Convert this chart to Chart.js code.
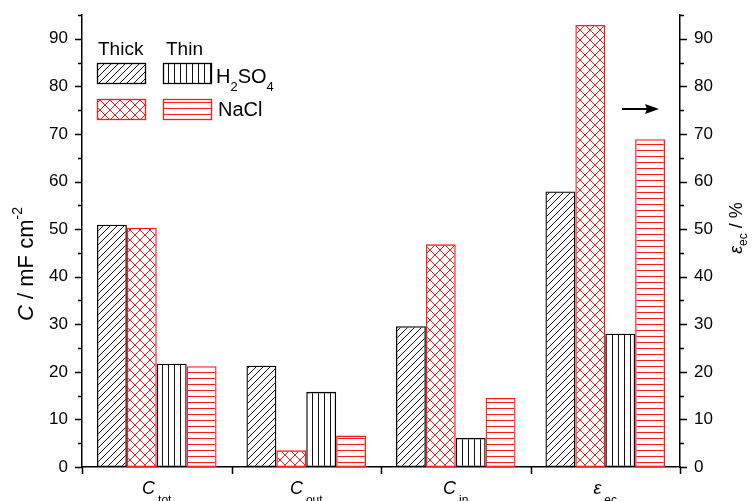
<!DOCTYPE html>
<html>
<head>
<meta charset="utf-8">
<script src="https://cdn.jsdelivr.net/npm/chart.js@4.4.0/dist/chart.umd.min.js"></script>
<style>
html,body{margin:0;padding:0;background:#fff;}
#wrap{width:753px;height:501px;}
</style>
</head>
<body>
<div id="wrap"><canvas id="c" width="753" height="501"></canvas></div>
<script>
// ---- data ----
const categoryMain = ['C', 'C', 'C', 'ε'];
const categorySub = ['tot', 'out', 'in', 'ec'];
const thickH2SO4 = [50.9, 21.3, 29.6, 57.9];
const thickNaCl = [50.3, 3.5, 46.8, 92.9];
const thinH2SO4 = [21.7, 15.8, 6.1, 28.0];
const thinNaCl = [21.2, 6.6, 14.5, 68.9];
const axisMin = 0;
const axisMax = 95;
const thicknessLabels = ['Thick', 'Thin'];
const electrolyteLabels = [['H', '2', 'SO', '4'], ['NaCl']];

const FONT = "'Liberation Sans', Arial, sans-serif";
const RED = '#ff1a1a';
const BLK = '#111';

function makePattern(kind, color) {
  const c = document.createElement('canvas');
  let s = 6;
  if (kind === 'diag') s = 7;
  if (kind === 'cross') s = 10;
  c.width = s; c.height = s;
  const g = c.getContext('2d');
  g.strokeStyle = color; g.fillStyle = color; g.lineWidth = 1;
  if (kind === 'diag') {
    g.beginPath();
    g.moveTo(-1, s + 1); g.lineTo(s + 1, -1);
    g.moveTo(-1, 1); g.lineTo(1, -1);
    g.moveTo(s - 1, s + 1); g.lineTo(s + 1, s - 1);
    g.stroke();
  } else if (kind === 'cross') {
    g.beginPath();
    g.moveTo(0, 0); g.lineTo(s, s);
    g.moveTo(0, s); g.lineTo(s, 0);
    g.stroke();
  } else if (kind === 'vert') {
    g.fillRect(0, 0, 1, s);
  } else if (kind === 'horiz') {
    g.fillRect(0, 0, s, 1);
  }
  return document.createElement('canvas').getContext('2d').createPattern(c, 'repeat');
}

const patDiag = makePattern('diag', BLK);
const patCross = makePattern('cross', RED);
const patVert = makePattern('vert', BLK);
const patHoriz = makePattern('horiz', RED);

const decor = {
  id: 'decor',
  beforeDraw(chart) {
    const ctx = chart.ctx;
    ctx.save();
    ctx.fillStyle = '#fff';
    ctx.fillRect(0, 0, chart.width, chart.height);
    ctx.restore();
  },
  afterDraw(chart) {
    const ctx = chart.ctx;
    const y = chart.scales.y, x = chart.scales.x;
    const L = chart.chartArea.left, R = chart.chartArea.right, B = chart.chartArea.bottom;
    ctx.save();
    ctx.strokeStyle = '#000';
    ctx.lineWidth = 1.5;
    // y ticks (major/minor) both sides
    ctx.beginPath();
    for (let v = axisMin; v <= axisMax; v += 5) {
      const py = Math.round(y.getPixelForValue(v)) + 0.5;
      const len = (v % 10 === 0) ? 7 : 4;
      ctx.moveTo(L - len, py); ctx.lineTo(L, py);
      ctx.moveTo(R, py); ctx.lineTo(R + len, py);
    }
    // x ticks at category boundaries
    for (let i = 0; i <= categoryMain.length; i++) {
      const px = Math.round(x.getPixelForValue(i - 0.5)) + 0.5;
      ctx.moveTo(px, B); ctx.lineTo(px, B + 7);
    }
    ctx.stroke();

    // x labels
    ctx.fillStyle = '#000';
    ctx.textBaseline = 'alphabetic';
    for (let i = 0; i < categoryMain.length; i++) {
      const cx = x.getPixelForValue(i);
      ctx.font = 'italic 18px ' + FONT;
      const w1 = ctx.measureText(categoryMain[i]).width;
      ctx.font = '12px ' + FONT;
      const w2 = ctx.measureText(categorySub[i]).width;
      const x0 = cx - (w1 + 3 + w2) / 2;
      ctx.font = 'italic 18px ' + FONT;
      ctx.fillText(categoryMain[i], x0, 494);
      ctx.font = '12px ' + FONT;
      ctx.fillText(categorySub[i], x0 + w1 + 3, 504);
    }

    // left axis title: C / mF cm^-2
    ctx.save();
    ctx.translate(33, 264);
    ctx.rotate(-Math.PI / 2);
    const parts = [
      { t: 'C', f: 'italic 22px ' + FONT, dy: 0 },
      { t: ' / mF cm', f: '22px ' + FONT, dy: 0 },
      { t: '-2', f: '14px ' + FONT, dy: -11 }
    ];
    let tw = 0;
    parts.forEach(p => { ctx.font = p.f; p.w = ctx.measureText(p.t).width; tw += p.w; });
    let xx = -tw / 2;
    parts.forEach(p => { ctx.font = p.f; ctx.fillText(p.t, xx, p.dy); xx += p.w; });
    ctx.restore();

    // right axis title: ε_ec / %
    ctx.save();
    ctx.translate(742, 228);
    ctx.rotate(-Math.PI / 2);
    const rparts = [
      { t: 'ε', f: 'italic 18px ' + FONT, dy: 0 },
      { t: 'ec', f: '12px ' + FONT, dy: 5 },
      { t: ' / %', f: '18px ' + FONT, dy: 0 }
    ];
    tw = 0;
    rparts.forEach(p => { ctx.font = p.f; p.w = ctx.measureText(p.t).width; tw += p.w; });
    xx = -tw / 2;
    rparts.forEach(p => { ctx.font = p.f; ctx.fillText(p.t, xx, p.dy); xx += p.w; });
    ctx.restore();

    // legend
    const ds = chart.data.datasets;
    ctx.font = '19px ' + FONT;
    ctx.fillText(thicknessLabels[0], 98, 55);
    ctx.fillText(thicknessLabels[1], 166, 55);
    const boxes = [
      { d: ds[0], x: 97, y: 63 }, { d: ds[2], x: 163, y: 63 },
      { d: ds[1], x: 97, y: 99 }, { d: ds[3], x: 163, y: 99 }
    ];
    boxes.forEach(b => {
      ctx.fillStyle = '#fff';
      ctx.fillRect(b.x, b.y, 48, 20);
      ctx.fillStyle = b.d.backgroundColor;
      ctx.fillRect(b.x, b.y, 48, 20);
      ctx.strokeStyle = b.d.borderColor;
      ctx.lineWidth = 1.3;
      ctx.strokeRect(b.x + 0.5, b.y + 0.5, 48, 20);
    });
    ctx.fillStyle = '#000';
    // H2SO4
    let lx = 216;
    const h = electrolyteLabels[0];
    for (let k = 0; k < h.length; k++) {
      const sub = (k % 2 === 1);
      ctx.font = (sub ? '13px ' : '20px ') + FONT;
      ctx.fillText(h[k], lx, sub ? 91 : 83);
      lx += ctx.measureText(h[k]).width;
    }
    ctx.font = '20px ' + FONT;
    ctx.fillText(electrolyteLabels[1][0], 218, 116);

    // arrow
    ctx.strokeStyle = '#000';
    ctx.fillStyle = '#000';
    ctx.lineWidth = 2;
    ctx.beginPath();
    ctx.moveTo(622, 109); ctx.lineTo(648, 109);
    ctx.stroke();
    ctx.beginPath();
    ctx.moveTo(659, 109); ctx.lineTo(645, 104); ctx.lineTo(647, 109); ctx.lineTo(645, 114); ctx.closePath();
    ctx.fill();
    ctx.restore();
  }
};

const tickFont = { family: FONT, size: 17 };
function noPad(s) { s.paddingTop = 0; s.paddingBottom = 0; s.paddingLeft = 0; s.paddingRight = 0; }

new Chart(document.getElementById('c'), {
  type: 'bar',
  data: {
    labels: categorySub,
    datasets: [
      { label: 'Thick H2SO4', data: thickH2SO4, backgroundColor: patDiag, borderColor: '#000' },
      { label: 'Thick NaCl', data: thickNaCl, backgroundColor: patCross, borderColor: RED },
      { label: 'Thin H2SO4', data: thinH2SO4, backgroundColor: patVert, borderColor: '#000' },
      { label: 'Thin NaCl', data: thinNaCl, backgroundColor: patHoriz, borderColor: RED }
    ].map(d => Object.assign(d, { borderWidth: 1.3, borderSkipped: false, yAxisID: 'y', categoryPercentage: 0.8, barPercentage: 1 }))
  },
  options: {
    responsive: false,
    devicePixelRatio: 1,
    animation: false,
    layout: { padding: { top: 15, left: 0, right: 0, bottom: 0 } },
    plugins: { legend: { display: false }, tooltip: { enabled: false } },
    scales: {
      x: {
        ticks: { display: false },
        grid: { display: false, drawTicks: false },
        border: { display: true, color: '#000', width: 1.5 },
        afterFit(s) { s.height = 34; noPad(s); }
      },
      y: {
        position: 'left',
        min: axisMin, max: axisMax,
        ticks: { stepSize: 10, includeBounds: false, padding: 14, color: '#000', font: tickFont },
        grid: { display: false, drawTicks: false },
        border: { display: true, color: '#000', width: 1.5 },
        afterFit(s) { s.width = 82; noPad(s); }
      },
      y2: {
        position: 'right',
        min: axisMin, max: axisMax,
        ticks: { stepSize: 10, includeBounds: false, padding: 14, color: '#000', font: tickFont },
        grid: { display: false, drawTicks: false },
        border: { display: true, color: '#000', width: 1.5 },
        afterFit(s) { s.width = 73; noPad(s); }
      }
    }
  },
  plugins: [decor]
});
</script>
</body>
</html>
